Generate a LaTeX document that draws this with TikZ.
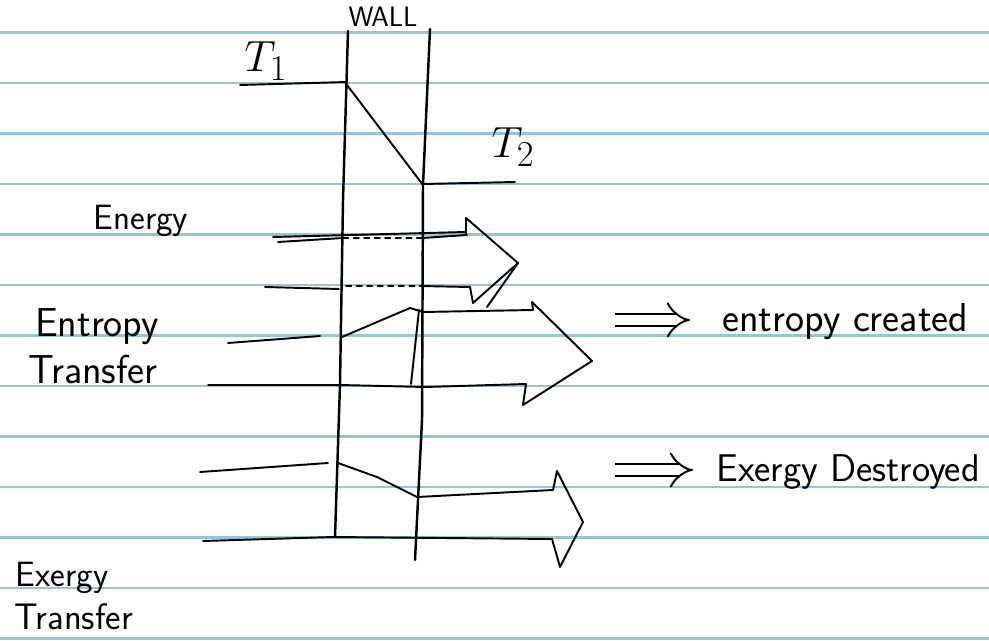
\documentclass[tikz,border=0pt]{standalone}
\usetikzlibrary{arrows.meta}
\definecolor{rulecol}{RGB}{150,196,216}
\tikzset{
  ink/.style={line width=1.1pt, line join=round, line cap=round},
  rule/.style={rulecol, line width=1.3pt},
  hand/.style={font=\sffamily\fontsize{23}{26}\selectfont, inner sep=0pt},
  implies/.style={line width=1.1pt, line cap=butt, double, double distance=6pt, -{Implies}},
}
\begin{document}
\begin{tikzpicture}[x=0.02cm, y=-0.02cm]
\useasboundingbox (0,0) rectangle (989,641);
\fill[white] (0,0) rectangle (989,641);
\foreach \k in {0,...,12}
  \draw[rule] (0,{32.5+50.5*\k}) -- (989,{32.5+50.5*\k});
\node[hand, font=\sffamily\fontsize{16}{18}\selectfont] (wall) at (383,17) {WALL};
\draw[ink, line width=1.4pt] (348,31) -- (343,200) -- (340,384) -- (335,537);
\draw[ink, line width=1.4pt] (430,29) -- (423,185) -- (422,420) -- (415,560);
\node[inner sep=0pt, font=\fontsize{30}{32}\selectfont] (t1) at (266,61) {$T_1$};
\node[inner sep=0pt, font=\fontsize{30}{32}\selectfont] (t2) at (513,147) {$T_2$};
\draw[ink] (240,85) -- (347,82);
\draw[ink] (347,85) -- (423,185);
\draw[ink] (423,184) -- (515,182);
\node[hand, font=\sffamily\fontsize{20}{22}\selectfont] (energy) at (141,221) {Energy};
\draw[ink] (273,237) -- (466,232);
\draw[ink] (278,242) -- (343,238);
\draw[ink, dashed] (343,238) -- (422,238);
\draw[ink] (422,238) -- (467,235);
\draw[ink] (265,287) -- (339,289);
\draw[ink, dashed] (346,286) -- (420,286);
\draw[ink] (420,286) -- (470,287);
\draw[ink] (466,234) -- (466,218) -- (518,263) -- (473,303) -- (470,287);
\draw[ink] (518,263) -- (487,307);
\node[hand] (entropy) at (97,327) {Entropy};
\node[hand] (entropyT) at (93,369) {Transfer};
\draw[ink] (228,343) -- (320,336);
\draw[ink] (342,337) -- (410,308) -- (423,312) -- (533,310) -- (532,302) -- (592,361)
  -- (523,405) -- (526,384) -- (425,387) -- (340,385) -- (208,385);
\draw[ink] (419,310) -- (411,384);
\node[hand, font=\sffamily\fontsize{20}{22}\selectfont] (exergy) at (62,578) {Exergy};
\node[hand, font=\sffamily\fontsize{21}{24}\selectfont] (exergyT) at (74,617) {Transfer};
\draw[ink] (200,472) -- (328,463);
\draw[ink] (338,463) -- (377,477) -- (417,497) -- (553,490) -- (557,471) -- (583,522)
  -- (560,567) -- (552,539) -- (333,537) -- (203,541);
\coordinate (c1) at (615,320);
\coordinate (c2) at (615,470);
\node[hand, anchor=west] (created) at (722,322) {entropy created};
\node[hand, anchor=west, font=\sffamily\fontsize{22}{24}\selectfont] (destroyed) at (716,472) {Exergy Destroyed};
\draw[implies] (c1) -- ++(75,0);
\draw[implies] (c2) -- ++(78,0);
\end{tikzpicture}
\end{document}
